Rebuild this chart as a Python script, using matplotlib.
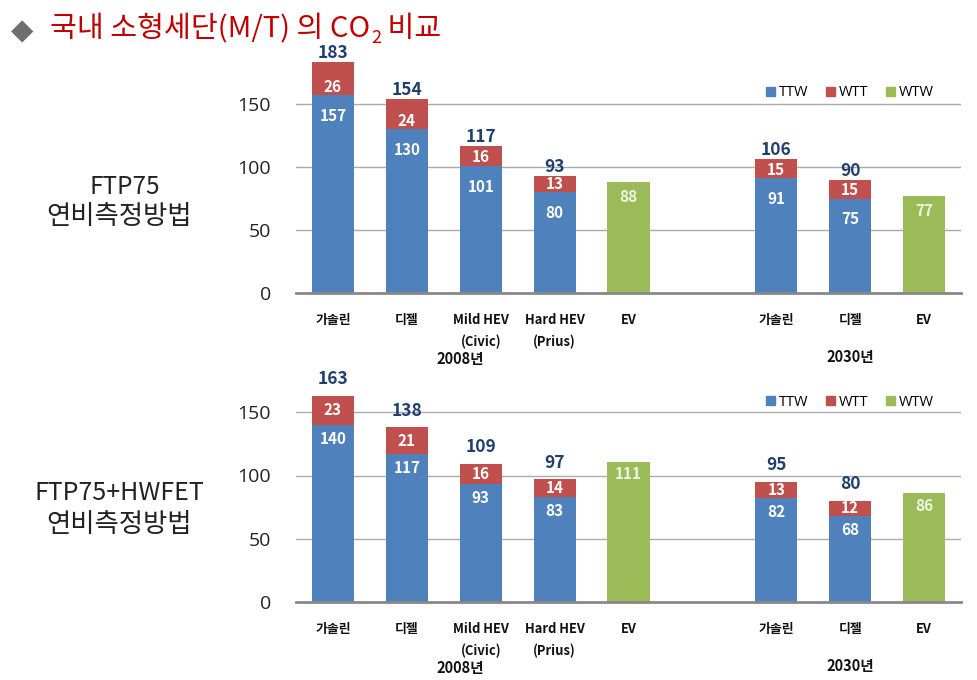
import matplotlib
matplotlib.use("Agg")
import matplotlib.pyplot as plt
from matplotlib.patches import Patch
import numpy as np

plt.rcParams['font.family'] = ['Noto Sans CJK KR', 'DejaVu Sans']

# ---------------- data ----------------
categories = ['가솔린', '디젤', 'Mild HEV\n(Civic)', 'Hard HEV\n(Prius)', 'EV', '가솔린', '디젤', 'EV']
positions = [0, 1, 2, 3, 4, 6, 7, 8]
groups = ['2008년', '2030년']

# FTP75
ftp_ttw = [157, 130, 101, 80, 0, 91, 75, 0]
ftp_wtt = [26, 24, 16, 13, 0, 15, 15, 0]
ftp_wtw = [0, 0, 0, 0, 88, 0, 0, 77]
# FTP75+HWFET
hw_ttw = [140, 117, 93, 83, 0, 82, 68, 0]
hw_wtt = [23, 21, 16, 14, 0, 13, 12, 0]
hw_wtw = [0, 0, 0, 0, 111, 0, 0, 86]

yticks = [0, 50, 100, 150]
legend_labels = ['TTW', 'WTT', 'WTW']
title_main = '국내 소형세단(M/T) 의 CO'
title_sub = '2'
title_end = ' 비교'
row_labels = [('FTP75', '연비측정방법'), ('FTP75+HWFET', '연비측정방법')]

C_BLUE = '#4F81BD'
C_RED = '#C0504D'
C_GREEN = '#9BBB59'
C_TOTAL = '#1F3F6E'

W, H = 978, 680
fig = plt.figure(figsize=(W / 100, H / 100), dpi=100)


def px_axes(left, bottom_px, right, top_px):
    return fig.add_axes([left / W, 1 - bottom_px / H, (right - left) / W, (bottom_px - top_px) / H])


def draw_panel(ax, ttw, wtt, wtw, total_off, red_mode, blue_off, ev_off):
    ax.patch.set_visible(False)
    x = np.array(positions)
    bw = 0.57
    ax.bar(x, ttw, bw, color=C_BLUE, zorder=3)
    ax.bar(x, wtt, bw, bottom=ttw, color=C_RED, zorder=3)
    ax.bar(x, wtw, bw, color=C_GREEN, zorder=3)
    ax.set_xlim(-0.5, 8.5)
    ax.set_ylim(0, 200)
    ax.set_yticks(yticks)
    ax.set_yticklabels([str(v) for v in yticks], fontsize=14, color='#222222',
                       family=['Open Sans', 'DejaVu Sans'])
    ax.tick_params(axis='y', length=0, pad=18)
    ax.tick_params(axis='x', length=0)
    ax.set_xticks([])
    for s in ['top', 'right', 'left']:
        ax.spines[s].set_visible(False)
    ax.spines['bottom'].set_color('#888888')
    ax.spines['bottom'].set_linewidth(2)
    ax.spines['bottom'].set_zorder(4)
    for v in yticks[1:]:
        ax.axhline(v, color='#AAAAAA', lw=1, zorder=1)

    lbl_kw = dict(ha='center', va='center', fontsize=11, fontweight='bold',
                  textcoords='offset points', zorder=5)
    for xi, t, r, g in zip(x, ttw, wtt, wtw):
        if g > 0:
            ax.annotate(str(g), (xi, g), xytext=(0, -ev_off), color='#EEF3E2', **lbl_kw)
            continue
        tot = t + r
        ax.annotate(str(t), (xi, t), xytext=(0, -blue_off), color='white', **lbl_kw)
        if red_mode == 'base':
            ax.annotate(str(r), (xi, t), xytext=(0, 6), color='white', **lbl_kw)
        else:
            ax.annotate(str(r), (xi, t + r / 2), xytext=(0, 0), color='white', **lbl_kw)
        ax.annotate(str(tot), (xi, tot), xytext=(0, total_off), ha='center', va='center',
                    fontsize=12.5, fontweight='bold', color=C_TOTAL,
                    textcoords='offset points', zorder=5)

    # category labels
    for xi, c in zip(x, categories):
        lines = c.split('\n')
        ax.annotate(lines[0], (xi, 0), xycoords=('data', 'axes fraction'),
                    xytext=(0, -19.5), textcoords='offset points', ha='center', va='center',
                    fontsize=9.3, fontweight='bold', color='#111111')
        if len(lines) > 1:
            ax.annotate(lines[1], (xi, 0), xycoords=('data', 'axes fraction'),
                        xytext=(0, -35.5), textcoords='offset points', ha='center', va='center',
                        fontsize=9.3, fontweight='bold', color='#111111')
    ax.annotate(groups[0], (0.247, 0), xycoords='axes fraction', xytext=(0, -47.5),
                textcoords='offset points', ha='center', va='center', fontsize=10.5,
                fontweight='bold', color='#111111')
    ax.annotate(groups[1], (0.833, 0), xycoords='axes fraction', xytext=(0, -46),
                textcoords='offset points', ha='center', va='center', fontsize=10.5,
                fontweight='bold', color='#111111')


ax1 = px_axes(296, 293, 961, 41)
draw_panel(ax1, ftp_ttw, ftp_wtt, ftp_wtw, total_off=6.5, red_mode='base', blue_off=15, ev_off=11)
ax2 = px_axes(296, 602, 961, 349)
draw_panel(ax2, hw_ttw, hw_wtt, hw_wtw, total_off=12, red_mode='center', blue_off=10, ev_off=9)

handles = [Patch(color=C_BLUE), Patch(color=C_RED), Patch(color=C_GREEN)]
for ax, ypx in [(ax1, 93), (ax2, 402)]:
    ax.legend(handles, legend_labels, loc='center', bbox_to_anchor=(850 / W, 1 - ypx / H),
              bbox_transform=fig.transFigure, ncol=3, frameon=False,
              handlelength=0.6, handleheight=0.6, handletextpad=0.3, columnspacing=1.2,
              prop={'family': ['Open Sans', 'DejaVu Sans'], 'size': 10.5})

# row labels
for (l1, l2), y1, y2, s1, x1 in zip(row_labels, [187, 493], [217, 525], [17.5, 18], [125, 119]):
    fig.text(x1 / W, 1 - y1 / H, l1, ha='center', va='center', fontsize=s1, color='#222222')
    fig.text(119 / W, 1 - y2 / H, l2, ha='center', va='center', fontsize=19, color='#222222')

# title
fig.text(22 / W, 1 - 31 / H, '◆', ha='center', va='center', fontsize=21, color='#6E6E6E',
         family=['DejaVu Sans'])
renderer = fig.canvas.get_renderer()
t1 = fig.text(50 / W, 1 - 29 / H, title_main, ha='left', va='center', fontsize=21, color='#C00000')
bb = t1.get_window_extent(renderer)
t2 = fig.text(bb.x1 / W + 1 / W, 1 - 38 / H, title_sub, ha='left', va='center', fontsize=13,
              color='#C00000')
bb2 = t2.get_window_extent(renderer)
fig.text(bb2.x1 / W, 1 - 29 / H, title_end, ha='left', va='center', fontsize=21, color='#C00000')

fig.savefig('out.png', dpi=100)
